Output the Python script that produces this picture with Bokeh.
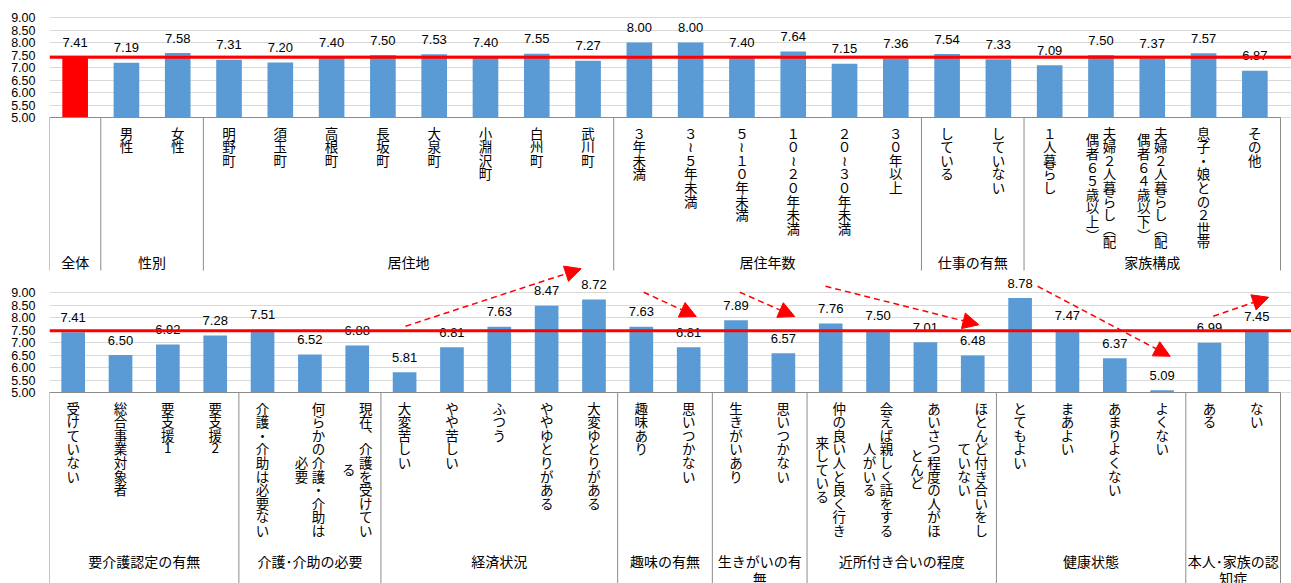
import numpy as np
from bokeh.plotting import figure
from bokeh.models import (Range1d, FixedTicker, CustomJSTickFormatter, Span,
                          Arrow, NormalHead, ColumnDataSource)
from bokeh.core.properties import value
from bokeh.embed import file_html
from bokeh.resources import INLINE

# ---------------- data ----------------
top_groups = ["全体", "性別", "居住地", "居住年数", "仕事の有無", "家族構成"]
top_group_sizes = [1, 2, 8, 6, 2, 5]
top_labels = ["", "男性", "女性",
              "明野町", "須玉町", "高根町", "長坂町", "大泉町", "小淵沢町", "白州町", "武川町",
              "３年未満", "３～５年未満", "５～１０年未満", "１０～２０年未満", "２０～３０年未満", "３０年以上",
              "している", "していない",
              "１人暮らし", "夫婦２人暮らし（配|偶者６５歳以上）", "夫婦２人暮らし（配|偶者６４歳以下）",
              "息子・娘との２世帯", "その他"]
top_values = [7.41, 7.19, 7.58,
              7.31, 7.20, 7.40, 7.50, 7.53, 7.40, 7.55, 7.27,
              8.00, 8.00, 7.40, 7.64, 7.15, 7.36,
              7.54, 7.33,
              7.09, 7.50, 7.37, 7.57, 6.87]
top_reference = 7.41

bottom_groups = ["要介護認定の有無", "介護･介助の必要", "経済状況", "趣味の有無",
                 "生きがいの有\n無", "近所付き合いの程度", "健康状態", "本人･家族の認\n知症"]
bottom_group_sizes = [4, 3, 5, 2, 2, 4, 4, 2]
bottom_labels = ["受けていない", "総合事業対象者", "要支援1", "要支援2",
                 "介護・介助は必要ない", "何らかの介護・介助は|必要", "現在、介護を受けてい|る",
                 "大変苦しい", "やや苦しい", "ふつう", "ややゆとりがある", "大変ゆとりがある",
                 "趣味あり", "思いつかない",
                 "生きがいあり", "思いつかない",
                 "仲の良い人と良く行き|来している", "会えば親しく話をする|人がいる",
                 "あいさつ程度の人がほ|とんど", "ほとんど付き合いをし|ていない",
                 "とてもよい", "まあよい", "あまりよくない", "よくない",
                 "ある", "ない"]
bottom_values = [7.41, 6.50, 6.92, 7.28,
                 7.51, 6.52, 6.88,
                 5.81, 6.81, 7.63, 8.47, 8.72,
                 7.63, 6.81,
                 7.89, 6.57,
                 7.76, 7.50, 7.01, 6.48,
                 8.78, 7.47, 6.37, 5.09,
                 6.99, 7.45]
bottom_reference = 7.47

# trend arrows of the lower chart (category position, value)
arrow_x0 = [7.52, 12.55, 14.58, 16.39, 20.87, 24.58]
arrow_y0 = [7.65, 9.01, 9.01, 9.25, 9.25, 8.05]
arrow_x1 = [11.23, 13.66, 15.74, 19.63, 23.67, 25.75]
arrow_y1 = [9.95, 8.04, 8.04, 7.71, 6.45, 8.81]

y_ticks = [5.0, 5.5, 6.0, 6.5, 7.0, 7.5, 8.0, 8.5, 9.0]

# ---------------- layout ----------------
W, H = 1291, 583
LEFT = 49
FRAME_W = W - LEFT
CAT_W = 1231.0           # px covered by categories
PX = 25.0                # px per value unit
TOP_AXIS = 117.0         # px from frame top to 5.00 line of upper chart
OFFSET = 11.0            # units between the two charts
BASE = 5.0

BLUE = "#5b9bd5"
RED = "#ff0000"
GRID = "#d9d9d9"
AXIS = "#8c8c8c"
JP = value("Noto Sans CJK JP")
NUM = value("Liberation Sans")

y0 = BASE - (H - TOP_AXIS) / PX
y1 = BASE + TOP_AXIS / PX
n_top, n_bot = len(top_values), len(bottom_values)

p = figure(width=W, height=H, output_backend="svg", toolbar_location=None,
           x_range=Range1d(0, n_top * FRAME_W / CAT_W),
           y_range=Range1d(y0, y1),
           x_axis_location=None, y_axis_location="left",
           min_border_left=LEFT, min_border_right=0,
           min_border_top=0, min_border_bottom=0)
p.extra_x_ranges = {"bx": Range1d(0, n_bot * FRAME_W / CAT_W)}
p.extra_y_ranges = {"by": Range1d(y0 + OFFSET, y1 + OFFSET)}
p.outline_line_color = None
p.background_fill_color = "white"
p.border_fill_color = "white"

all_ticks = y_ticks + [t - OFFSET for t in y_ticks]
p.xgrid.visible = False
p.ygrid.ticker = FixedTicker(ticks=all_ticks)
p.ygrid.grid_line_color = GRID
p.ygrid.grid_line_width = 1

ax = p.yaxis[0]
ax.ticker = FixedTicker(ticks=all_ticks)
ax.formatter = CustomJSTickFormatter(
    args=dict(off=OFFSET),
    code="const v = tick < 3 ? tick + off : tick; return v.toFixed(2);")
ax.axis_line_color = None
ax.major_tick_line_color = None
ax.minor_tick_line_color = None
ax.major_tick_out = 0
ax.major_label_standoff = 14
ax.major_label_text_font = "Liberation Sans"
ax.major_label_text_font_size = "12.5px"
ax.major_label_text_color = "#000000"

VERT = {"～": "≀", "（": "︵", "）": "︶", "、": "︑"}


def label_rows(labels, col_px=17.0, step_px=13.6, first_px=15.0):
    xs, xo, yo, ch = [], [], [], []
    for i, lab in enumerate(labels):
        if not lab:
            continue
        cols = lab.split("|")
        n = len(cols)
        m = max(len(c) for c in cols)
        for k, c in enumerate(cols):
            dx = ((n - 1) / 2 - k) * col_px
            shift = (m - len(c)) / 2 * step_px
            for j, s in enumerate(c):
                xs.append(i + 0.5)
                xo.append(dx)
                yo.append(first_px + shift + j * step_px)
                ch.append(VERT.get(s, s))
    return ColumnDataSource(dict(x=xs, y=[BASE] * len(xs), xo=xo, yo=yo, t=ch))


def group_rows(groups, sizes, first_px, line_px=17.0):
    edges = np.concatenate([[0], np.cumsum(sizes)])
    xs, yo, t = [], [], []
    for g, a, b in zip(groups, edges[:-1], edges[1:]):
        for j, line in enumerate(g.split("\n")):
            xs.append((a + b) / 2)
            yo.append(first_px + j * line_px)
            t.append(line)
    return ColumnDataSource(dict(x=xs, y=[BASE] * len(xs), yo=yo, t=t)), edges


def draw_panel(values, labels, groups, sizes, ref, group_px, sep_bottom, rn):
    n = len(values)
    kw = {} if rn is None else dict(x_range_name="bx", y_range_name="by")
    colors = [RED if (rn is None and i == 0) else BLUE for i in range(n)]
    src = ColumnDataSource(dict(x=[i + 0.5 for i in range(n)], top=values,
                                color=colors, txt=["%.2f" % v for v in values]))
    p.vbar(x="x", top="top", bottom=BASE, width=0.5, fill_color="color",
           line_color=None, source=src, **kw)
    p.text(x="x", y="top", text="txt", source=src, y_offset=-15,
           text_align="center", text_baseline="middle", text_font=NUM,
           text_font_size="13px", text_color="#000000", **kw)
    # category axis line
    p.segment(x0=[0], x1=[n], y0=[BASE], y1=[BASE], line_color=AXIS,
              line_width=1, **kw)
    gsrc, edges = group_rows(groups, sizes, group_px)
    p.segment(x0=list(edges), x1=list(edges), y0=[BASE] * len(edges),
              y1=[sep_bottom] * len(edges), line_color=AXIS, line_width=1, **kw)
    lsrc = label_rows(labels)
    p.text(x="x", y="y", text="t", x_offset="xo", y_offset="yo", source=lsrc,
           text_align="center", text_baseline="middle", text_font=JP,
           text_font_size="13.5px", text_color="#000000", **kw)
    p.text(x="x", y="y", text="t", y_offset="yo", source=gsrc,
           text_align="center", text_baseline="middle", text_font=JP,
           text_font_size="14px", text_color="#000000", **kw)
    sp = Span(location=ref, dimension="width", line_color=RED, line_width=3)
    if rn is not None:
        sp.y_range_name = "by"
    p.add_layout(sp)


draw_panel(top_values, top_labels, top_groups, top_group_sizes, top_reference,
           144.0, BASE - 153.0 / PX, None)
draw_panel(bottom_values, bottom_labels, bottom_groups, bottom_group_sizes,
           bottom_reference, 168.0, y0 + OFFSET, "b")

asrc = ColumnDataSource(dict(x0=arrow_x0, y0=arrow_y0, x1=arrow_x1, y1=arrow_y1))
p.add_layout(Arrow(end=NormalHead(size=16, fill_color=RED, line_color=RED),
                   x_start="x0", y_start="y0", x_end="x1", y_end="y1",
                   source=asrc, line_color=RED, line_width=1.5,
                   line_dash="6 4", x_range_name="bx", y_range_name="by"))

open("out.html", "w").write(file_html(p, INLINE))
